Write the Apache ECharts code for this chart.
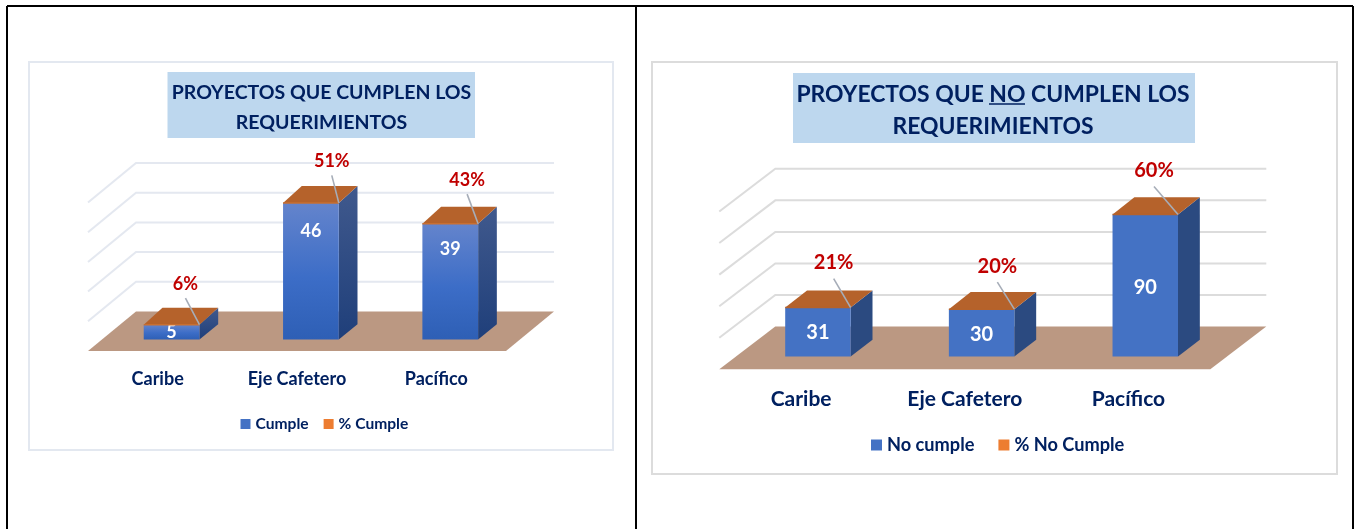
<!DOCTYPE html>
<html>
<head>
<meta charset="utf-8">
<title>Proyectos</title>
<script src="https://cdn.jsdelivr.net/npm/echarts@6/dist/echarts.min.js"></script>
<style>
html, body { margin: 0; padding: 0; background: #fff; }
#chart { width: 1362px; height: 529px; }
</style>
</head>
<body>
<div id="chart"></div>
<script>
var categories = ['Caribe', 'Eje Cafetero', 'Pacífico'];

var cumple = [5, 46, 39];
var pctCumple = [6, 51, 43];
var cumpleTicks = [0, 10, 20, 30, 40, 50];

var noCumple = [31, 30, 90];
var pctNoCumple = [21, 20, 60];
var noCumpleTicks = [0, 20, 40, 60, 80, 100];

var fontName = 'Lato';
var navy = '#002060';

var chart = echarts.init(document.getElementById('chart'));

// depth is how far the floor runs back, in pixels; the bars sit between near and far on it
function wallSeries(gridIdx, ticks, depth, lineColor) {
    return {
        type: 'custom',
        name: 'pared' + gridIdx,
        xAxisIndex: gridIdx,
        yAxisIndex: gridIdx,
        silent: true,
        z: 1,
        encode: { x: 0, y: 1 },
        data: ticks.map(function (t) { return [0, t]; }),
        renderItem: function (params, api) {
            var cs = params.coordSys;
            var y = api.coord([0, api.value(1)])[1];
            if (api.value(1) === 0) {
                return {
                    type: 'polygon',
                    shape: { points: [
                        [cs.x, y], [cs.x + cs.width, y],
                        [cs.x + cs.width + depth[0], y + depth[1]], [cs.x + depth[0], y + depth[1]]
                    ] },
                    style: { fill: '#bb9882' }
                };
            }
            return {
                type: 'polyline',
                shape: { points: [
                    [cs.x, y], [cs.x + depth[0], y + depth[1]], [cs.x + cs.width + depth[0], y + depth[1]]
                ] },
                style: { fill: null, stroke: lineColor, lineWidth: 2 }
            };
        }
    };
}

function barSeries(gridIdx, name, values, o) {
    return {
        type: 'custom',
        name: name,
        xAxisIndex: gridIdx,
        yAxisIndex: gridIdx,
        silent: true,
        z: 3,
        itemStyle: { color: '#4472c4' },
        encode: { x: 0, y: 1 },
        data: values.map(function (v, i) { return [i, v]; }),
        renderItem: function (params, api) {
            var base = api.coord([api.value(0), 0]);
            var top = api.coord([api.value(0), api.value(1)]);
            var w = api.size([1, 0])[0] * 0.4;
            var fx = base[0] + o.depth[0] * o.near - w / 2;
            var fy = base[1] + o.depth[1] * o.near;
            var ty = top[1] + o.depth[1] * o.near;
            var dx = o.depth[0] * (o.far - o.near);
            var dy = o.depth[1] * (o.far - o.near);
            return {
                type: 'group',
                children: [
                    { type: 'polygon', shape: { points: [[fx + w, fy], [fx + w + dx, fy + dy], [fx + w + dx, ty + dy - o.lift], [fx + w, ty]] }, style: { fill: o.side } },
                    { type: 'rect', shape: { x: fx, y: ty, width: w, height: fy - ty }, style: { fill: o.front } },
                    {
                        type: 'text',
                        x: fx + w / 2,
                        y: (fy + ty) / 2 + o.labelShift[params.dataIndex],
                        style: {
                            text: String(api.value(1)),
                            fill: '#fff',
                            font: 'bold ' + o.labelSize + 'px ' + fontName,
                            align: 'center',
                            verticalAlign: 'middle'
                        }
                    }
                ]
            };
        }
    };
}

// the % series is what Excel stacked on top: only its brown lid and the red label show
function lidSeries(gridIdx, name, pcts, values, o) {
    return {
        type: 'custom',
        name: name,
        xAxisIndex: gridIdx,
        yAxisIndex: gridIdx,
        silent: true,
        z: 4,
        itemStyle: { color: '#ed7d31' },
        encode: { x: 0, y: 1 },
        data: values.map(function (v, i) { return [i, v, pcts[i]]; }),
        renderItem: function (params, api) {
            var top = api.coord([api.value(0), api.value(1)]);
            var w = api.size([1, 0])[0] * 0.4;
            var fx = top[0] + o.depth[0] * o.near - w / 2;
            var ty = top[1] + o.depth[1] * o.near;
            var dx = o.depth[0] * (o.far - o.near);
            var dy = o.depth[1] * (o.far - o.near) - o.lift;
            var shift = o.pctShift[params.dataIndex];
            var lx = fx + w + shift[0];
            var ly = ty + shift[1];
            return {
                type: 'group',
                children: [
                    { type: 'polygon', shape: { points: [[fx, ty], [fx + w, ty], [fx + w + dx, ty + dy], [fx + dx, ty + dy]] }, style: { fill: '#b5622b' } },
                    { type: 'line', shape: { x1: fx, y1: ty, x2: fx + w, y2: ty }, style: { stroke: o.lidEdge, lineWidth: 1.5 } },
                    { type: 'line', shape: { x1: lx, y1: ly + o.pctSize * 0.8, x2: fx + w, y2: ty }, style: { stroke: '#a6adb8', lineWidth: 1.6 } },
                    {
                        type: 'text',
                        x: lx,
                        y: ly,
                        style: {
                            text: api.value(2) + '%',
                            fill: '#c00000',
                            font: 'bold ' + o.pctSize + 'px ' + fontName,
                            align: 'center',
                            verticalAlign: 'middle'
                        }
                    }
                ]
            };
        }
    };
}

var leftOpts = {
    depth: [48, -39.5],
    near: 0.29,
    far: 0.68,
    lift: 1.5,
    front: { type: 'linear', x: 0, y: 0, x2: 0, y2: 1, colorStops: [
        { offset: 0, color: '#6484cc' }, { offset: 0.55, color: '#3c6dc7' }, { offset: 1, color: '#2e5fb5' }
    ] },
    side: { type: 'linear', x: 0, y: 0, x2: 0, y2: 1, colorStops: [
        { offset: 0, color: '#40598d' }, { offset: 1, color: '#1f3f7a' }
    ] },
    lidEdge: '#c96f30',
    labelSize: 18,
    labelShift: [0, -40, -32],
    pctSize: 18,
    pctShift: [[-14, -41], [-7, -42], [-11, -44]]
};

var rightOpts = {
    depth: [56, -42.7],
    near: 0.3,
    far: 0.69,
    lift: 0.5,
    front: '#4472c4',
    side: '#2b4a80',
    lidEdge: '#b5622b',
    labelSize: 20,
    labelShift: [1, 2, 2],
    pctSize: 20,
    pctShift: [[-17, -45], [-17, -43], [-24, -44]]
};

function frameLine(x1, y1, x2, y2) {
    return { type: 'line', shape: { x1: x1, y1: y1, x2: x2, y2: y2 }, style: { stroke: '#000', lineWidth: 2 }, z: 10 };
}

var option = {
    animation: false,
    backgroundColor: '#fff',
    textStyle: { fontFamily: fontName },
    title: [
        {
            text: 'PROYECTOS QUE CUMPLEN LOS\nREQUERIMIENTOS',
            left: 316.5, top: 73, textAlign: 'center',
            textStyle: { color: navy, fontFamily: fontName, fontWeight: 'bold', fontSize: 19.5, lineHeight: 29.5 }
        },
        {
            text: 'PROYECTOS QUE NO CUMPLEN LOS\nREQUERIMIENTOS',
            left: 988, top: 73.5, textAlign: 'center',
            textStyle: { color: navy, fontFamily: fontName, fontWeight: 'bold', fontSize: 22.9, lineHeight: 32 }
        }
    ],
    graphic: [
        { type: 'rect', z: -1, shape: { x: 29, y: 62, width: 584, height: 388 }, style: { fill: '#fff', stroke: '#e3e8f0', lineWidth: 2 } },
        { type: 'rect', z: -1, shape: { x: 652, y: 62, width: 685, height: 412 }, style: { fill: '#fff', stroke: '#dcdcdc', lineWidth: 2 } },
        { type: 'rect', z: 0, shape: { x: 167.5, y: 72, width: 307.5, height: 66 }, style: { fill: '#bdd7ee' } },
        { type: 'rect', z: 0, shape: { x: 793, y: 73, width: 402, height: 70 }, style: { fill: '#bdd7ee' } },
        { type: 'line', z: 5, shape: { x1: 989, y1: 104, x2: 1025, y2: 104 }, style: { stroke: navy, lineWidth: 1.5 } },
        frameLine(7, 6, 1353, 6),
        frameLine(7, 6, 7, 529),
        frameLine(636, 6, 636, 529),
        frameLine(1353, 6, 1353, 529)
    ],
    grid: [
        { left: 88, top: 202.5, width: 418, height: 148.5 },
        { left: 719.3, top: 211.5, width: 491, height: 157.8 }
    ],
    legend: [
        {
            data: ['Cumple', '% Cumple'],
            left: 235.5, top: 411, itemWidth: 10, itemHeight: 10, itemGap: 15, selectedMode: false, icon: 'rect',
            textStyle: { color: navy, fontFamily: fontName, fontWeight: 'bold', fontSize: 15.6 }
        },
        {
            data: ['No cumple', '% No Cumple'],
            left: 866, top: 431, itemWidth: 11, itemHeight: 11, itemGap: 24, selectedMode: false, icon: 'rect',
            textStyle: { color: navy, fontFamily: fontName, fontWeight: 'bold', fontSize: 18.2 }
        }
    ],
    xAxis: [
        { type: 'category', gridIndex: 0, data: categories, axisLine: { show: false }, axisTick: { show: false },
          axisLabel: { color: navy, fontFamily: fontName, fontWeight: 'bold', fontSize: 18, margin: 19 } },
        { type: 'category', gridIndex: 1, data: categories, axisLine: { show: false }, axisTick: { show: false },
          axisLabel: { color: navy, fontFamily: fontName, fontWeight: 'bold', fontSize: 21, margin: 19 } }
    ],
    yAxis: [
        { type: 'value', gridIndex: 0, min: 0, max: 50, interval: 10, show: false },
        { type: 'value', gridIndex: 1, min: 0, max: 100, interval: 20, show: false }
    ],
    series: [
        wallSeries(0, cumpleTicks, leftOpts.depth, '#e4e8f0'),
        barSeries(0, 'Cumple', cumple, leftOpts),
        lidSeries(0, '% Cumple', pctCumple, cumple, leftOpts),
        wallSeries(1, noCumpleTicks, rightOpts.depth, '#dcdcdc'),
        barSeries(1, 'No cumple', noCumple, rightOpts),
        lidSeries(1, '% No Cumple', pctNoCumple, noCumple, rightOpts)
    ]
};

chart.setOption(option);
window.addEventListener('resize', function () {
    chart.resize();
});
</script>
</body>
</html>
